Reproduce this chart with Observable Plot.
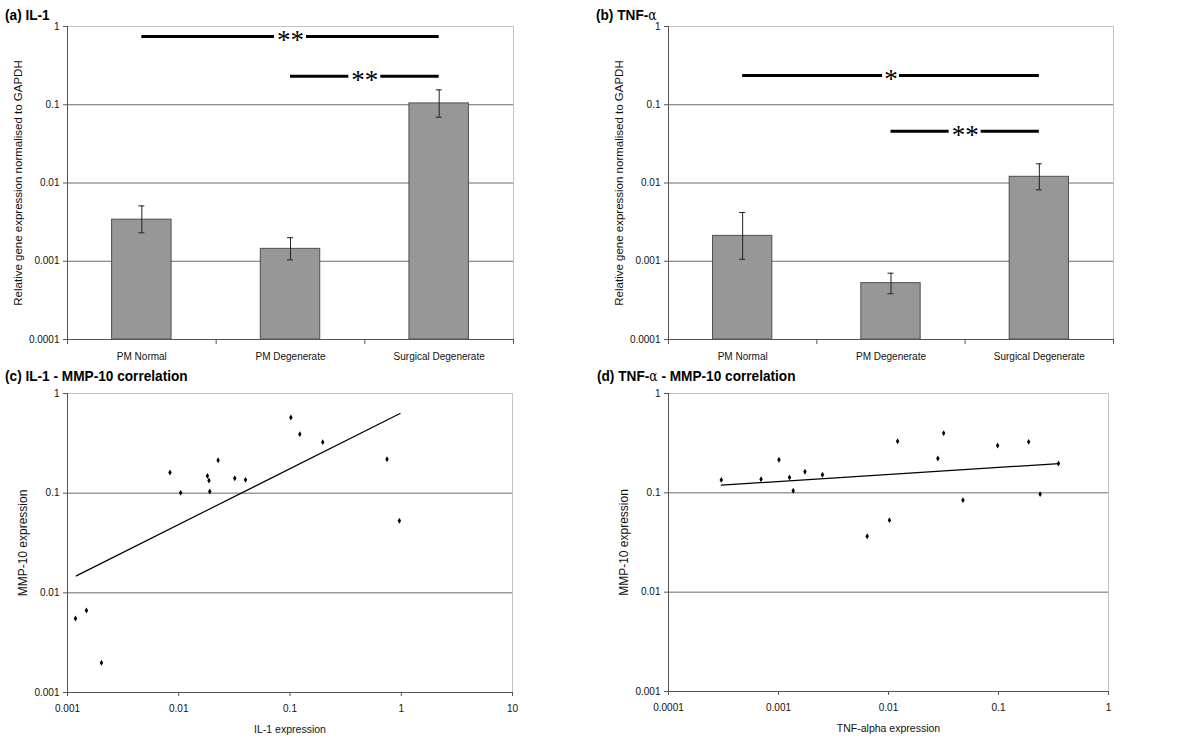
<!DOCTYPE html>
<html><head><meta charset="utf-8">
<script src="https://cdn.jsdelivr.net/npm/d3@7"></script>
<script src="https://cdn.jsdelivr.net/npm/@observablehq/plot@0.6"></script>
<style>
body{margin:0;background:#fff;}
#root{position:relative;width:1200px;height:749px;overflow:hidden;font-family:"Liberation Sans",Arial,sans-serif;}
.panel{position:absolute;}
.title{position:absolute;font-weight:bold;font-size:15.5px;transform:scaleX(0.88);transform-origin:left top;white-space:nowrap;color:#000;line-height:18px;}
.alpha{font-family:"DejaVu Serif","Liberation Serif",serif;font-weight:normal;font-size:14px;}
</style></head><body><div id="root"></div>
<script>
// ---- Data ----
const categories = ["PM Normal", "PM Degenerate", "Surgical Degenerate"];
const il1Mean  = [0.0034, 0.00144, 0.104];
const il1Upper = [0.0051, 0.0020, 0.155];
const il1Lower = [0.00231, 0.00104, 0.0693];
const tnfMean  = [0.00211, 0.000525, 0.0120];
const tnfUpper = [0.0042, 0.000703, 0.0176];
const tnfLower = [0.00106, 0.000384, 0.00818];

const il1SigFrom = [0, 1];
const il1SigTo = [2, 2];
const il1SigY = [0.745, 0.232];
const il1SigLabel = ["**", "**"];
const tnfSigFrom = [0, 1];
const tnfSigTo = [2, 2];
const tnfSigY = [0.236, 0.0459];
const tnfSigLabel = ["*", "**"];

const barYTicks = [0.0001, 0.001, 0.01, 0.1, 1];

const il1Expr = [0.00118, 0.00148, 0.00202, 0.00834, 0.0104, 0.0181, 0.0187, 0.0190, 0.0226, 0.0319, 0.0398, 0.1018, 0.1225, 0.197, 0.745, 0.962];
const il1MMP  = [0.00552, 0.00665, 0.00199, 0.161, 0.1007, 0.149, 0.134, 0.104, 0.214, 0.141, 0.136, 0.574, 0.391, 0.325, 0.219, 0.0528];
const il1TrendX = [0.0012, 0.975];
const il1TrendY = [0.0148, 0.63];

const tnfExpr = [0.000302, 0.000694, 0.00101, 0.00126, 0.00136, 0.00174, 0.00251, 0.0064, 0.0102, 0.0121, 0.0281, 0.0317, 0.0475, 0.0982, 0.188, 0.239, 0.351];
const tnfMMP  = [0.135, 0.137, 0.215, 0.143, 0.105, 0.163, 0.152, 0.0366, 0.0531, 0.331, 0.222, 0.399, 0.0844, 0.300, 0.326, 0.097, 0.197];
const tnfTrendX = [0.000302, 0.356];
const tnfTrendY = [0.1194, 0.197];

const scatterYTicks = [0.001, 0.01, 0.1, 1];
const il1XTicks = [0.001, 0.01, 0.1, 1, 10];
const tnfXTicks = [0.0001, 0.001, 0.01, 0.1, 1];

// ---- Drawing ----
const FONT = '"Liberation Sans", Arial, sans-serif';
const root = document.getElementById("root");

function place(el, left, top) {
  const d = document.createElement("div");
  d.className = "panel";
  d.style.left = left + "px";
  d.style.top = top + "px";
  d.appendChild(el);
  root.appendChild(d);
}

function barChart(o) {
  const W = 600, H = 370;
  const n = categories.length;
  const bw = (W - o.ml - o.mr) / n;
  const rows = categories.map((c, i) => ({i, c, mean: o.mean[i], hi: o.upper[i], lo: o.lower[i]}));
  const sig = o.sigFrom.map((f, k) => ({x1: f + 0.5, x2: o.sigTo[k] + 0.5, xm: (f + o.sigTo[k]) / 2 + 0.5, y: o.sigY[k], label: o.sigLabel[k]}));
  const yMin = barYTicks[0], yMax = barYTicks[barYTicks.length - 1];
  const cap = 3 / bw;
  return Plot.plot({
    width: W, height: H, marginLeft: o.ml, marginRight: o.mr, marginTop: o.mt, marginBottom: o.mb,
    style: {fontFamily: FONT, fontSize: "10px", background: "transparent", color: "#111"},
    x: {type: "linear", domain: [0, n], axis: null},
    y: {type: "log", domain: [yMin, yMax], axis: null},
    marks: [
      Plot.ruleY(barYTicks.slice(1, -1), {stroke: "#6a6a6a"}),
      Plot.ruleY([yMax], {stroke: "#c4c4c4"}),
      Plot.ruleX([n], {stroke: "#c4c4c4"}),
      Plot.rectY(rows, {x1: "i", x2: d => d.i + 1, y1: yMin, y2: "mean", insetLeft: bw * 0.3, insetRight: bw * 0.3, fill: "#979797", stroke: "#505050", strokeWidth: 1}),
      Plot.ruleX(rows, {x: d => d.i + 0.5, y1: "lo", y2: "hi", stroke: "#222"}),
      Plot.ruleY(rows, {y: "hi", x1: d => d.i + 0.5 - cap, x2: d => d.i + 0.5 + cap, stroke: "#222"}),
      Plot.ruleY(rows, {y: "lo", x1: d => d.i + 0.5 - cap, x2: d => d.i + 0.5 + cap, stroke: "#222"}),
      Plot.ruleX([0], {stroke: "#555"}),
      Plot.ruleY([yMin], {stroke: "#555"}),
      Plot.axisY({ticks: barYTicks, tickFormat: d => String(d), tickSize: 4, tickPadding: 4, label: null, stroke: "#555"}),
      Plot.axisX({ticks: d3.range(n + 1), tickFormat: () => "", tickSize: 5, label: null, stroke: "#555"}),
      Plot.axisX({ticks: categories.map((c, i) => i + 0.5), tickFormat: v => categories[Math.floor(v)], tickSize: 0, tickPadding: 13, label: null}),
      ...sig.flatMap(s => [
        Plot.ruleY([s], {x1: "x1", x2: "xm", y: "y", stroke: "#000", strokeWidth: 3, insetRight: s.label.length * 7.5 + 1}),
        Plot.ruleY([s], {x1: "xm", x2: "x2", y: "y", stroke: "#000", strokeWidth: 3, insetLeft: s.label.length * 7.5 + 1})
      ]),
      Plot.text(sig, {x: "xm", y: "y", text: "label", fontSize: 27, fontFamily: '"Liberation Serif", serif', fill: "#000", dy: 4}),
      Plot.text([o.ylabel], {frameAnchor: "left", textAnchor: "middle", lineAnchor: "middle", rotate: -90, dx: -49, fontSize: 11.5})
    ]
  });
}

function scatter(o) {
  const W = 600, H = 379;
  const pts = o.xs.map((x, i) => ({x, y: o.ys[i]}));
  const trend = o.tx.map((x, i) => ({x, y: o.ty[i]}));
  const xMin = o.xTicks[0], xMax = o.xTicks[o.xTicks.length - 1];
  const yMin = scatterYTicks[0], yMax = scatterYTicks[scatterYTicks.length - 1];
  return Plot.plot({
    width: W, height: H, marginLeft: o.ml, marginRight: o.mr, marginTop: o.mt, marginBottom: o.mb,
    style: {fontFamily: FONT, fontSize: "10px", background: "transparent", color: "#111"},
    x: {type: "log", domain: [xMin, xMax], axis: null},
    y: {type: "log", domain: [yMin, yMax], axis: null},
    marks: [
      Plot.ruleY(scatterYTicks.slice(1, -1), {stroke: "#6a6a6a"}),
      Plot.ruleY([yMax], {stroke: "#c4c4c4"}),
      Plot.ruleX([xMax], {stroke: "#c4c4c4"}),
      Plot.ruleX([xMin], {stroke: "#555"}),
      Plot.ruleY([yMin], {stroke: "#555"}),
      Plot.axisY({ticks: scatterYTicks, tickFormat: d => String(d), tickSize: 4, tickPadding: 4, label: null, stroke: "#555"}),
      Plot.axisX({ticks: o.xTicks, tickFormat: d => String(d), tickSize: 4, tickPadding: 8, label: null, stroke: "#555"}),
      Plot.line(trend, {x: "x", y: "y", stroke: "#000", strokeWidth: 1.2}),
      Plot.dot(pts, {x: "x", y: "y", symbol: "diamond", r: 1.8, fill: "#000"}),
      Plot.text([o.ylabel], {frameAnchor: "left", textAnchor: "middle", lineAnchor: "middle", rotate: -90, dx: -44, fontSize: 12}),
      Plot.text([o.xlabel], {frameAnchor: "bottom", textAnchor: "middle", lineAnchor: "middle", dy: 37, fontSize: 10.5})
    ]
  });
}

place(barChart({mean: il1Mean, upper: il1Upper, lower: il1Lower, sigFrom: il1SigFrom, sigTo: il1SigTo, sigY: il1SigY, sigLabel: il1SigLabel,
  ylabel: "Relative gene expression normalised to GAPDH", ml: 67, mr: 87, mt: 26, mb: 31}), 0, 0);
place(barChart({mean: tnfMean, upper: tnfUpper, lower: tnfLower, sigFrom: tnfSigFrom, sigTo: tnfSigTo, sigY: tnfSigY, sigLabel: tnfSigLabel,
  ylabel: "Relative gene expression normalised to GAPDH", ml: 68, mr: 87, mt: 26, mb: 31}), 600, 0);
place(scatter({xs: il1Expr, ys: il1MMP, tx: il1TrendX, ty: il1TrendY, xTicks: il1XTicks,
  ylabel: "MMP-10 expression", xlabel: "IL-1 expression", ml: 67, mr: 88, mt: 23, mb: 57}), 0, 370);
place(scatter({xs: tnfExpr, ys: tnfMMP, tx: tnfTrendX, ty: tnfTrendY, xTicks: tnfXTicks,
  ylabel: "MMP-10 expression", xlabel: "TNF-alpha expression", ml: 68, mr: 92, mt: 23, mb: 58}), 600, 370);

function title(html, left, top) {
  const t = document.createElement("div");
  t.className = "title";
  t.style.left = left + "px";
  t.style.top = top + "px";
  t.innerHTML = html;
  root.appendChild(t);
}
title("(a) IL-1", 5, 6);
title('(b) TNF-<span class="alpha">α</span>', 596, 6);
title("(c) IL-1 - MMP-10 correlation", 5, 367);
title('(d) TNF-<span class="alpha">α</span> - MMP-10 correlation', 597, 367);
</script></body></html>
